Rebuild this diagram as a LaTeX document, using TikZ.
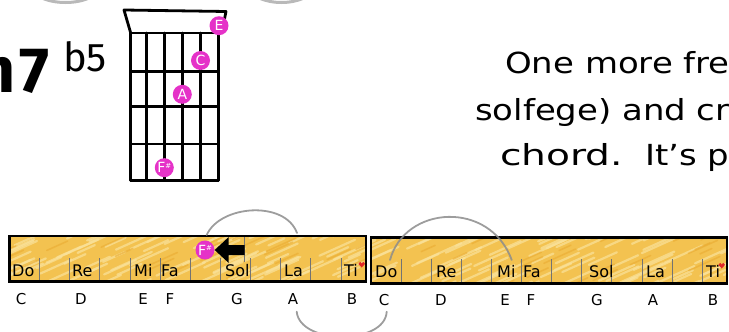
\documentclass[tikz,border=0pt]{standalone}
\usepackage{fontspec}
\setmainfont{DejaVu Sans}
\newfontfamily\chordfont{Fira Sans}
\usetikzlibrary{calc}
\definecolor{dotmag}{RGB}{229,50,200}
\definecolor{barfill}{RGB}{243,194,80}
\definecolor{barlight}{RGB}{250,226,155}
\definecolor{bardark}{RGB}{234,172,50}
\definecolor{arcgray}{RGB}{140,140,140}
\definecolor{topgray}{RGB}{185,185,185}
\definecolor{heartred}{RGB}{225,40,40}
\begin{document}
\begin{tikzpicture}[x=1pt,y=-1pt,
  fretline/.style={line width=2.8pt, black, line cap=round},
  dot/.style={circle, fill=dotmag, inner sep=0pt, minimum size=19pt, text=white, font=\fontsize{14}{14}\selectfont},
  barbox/.style={line width=2.4pt, black},
  tickline/.style={line width=0.7pt, black!55},
  solf/.style={anchor=base west, font=\fontsize{16}{16}\selectfont, inner sep=0pt},
  letter/.style={anchor=base, font=\fontsize{15}{15}\selectfont, inner sep=0pt},
  sketcharc/.style={arcgray, line width=1.8pt, opacity=0.85, line cap=round},
  toparc/.style={topgray, line width=3pt, line cap=round},
  body/.style={anchor=base west, inner sep=0pt, font=\fontsize{29}{29}\selectfont}]
\useasboundingbox (0,0) rectangle (729,332);
\clip (0,0) rectangle (729,332);

% top partial arcs
\coordinate (t1a) at (42,-2); \coordinate (t1b) at (89,-2);
\coordinate (t2a) at (259,-2); \coordinate (t2b) at (304,-2);
\draw[toparc] (t1a) .. controls (55,4) and (76,4) .. (t1b);
\draw[toparc] (t2a) .. controls (272,4) and (291,4) .. (t2b);

% chord name
\node[anchor=base east, inner sep=0pt, font=\chordfont\bfseries\fontsize{64}{64}\selectfont] (cm) at (16,92) {m};
\node[anchor=base west, inner sep=0pt, font=\chordfont\bfseries\fontsize{64}{64}\selectfont] (c7) at (19,92) {7};
\node[anchor=base west, inner sep=0pt, font=\chordfont\fontsize{40}{40}\selectfont] (cb5) at (63,71) {b5};

% chord diagram
\foreach \x in {130.7,146.7,164.3,182.3,200.7,218.3}
  \draw[fretline] (\x,33) -- (\x,180.5);
\foreach \y in {33,71.5,106.7,144,180.5}
  \draw[fretline] (130.7,\y) -- (218.3,\y);
\draw[fretline, line join=round] (130.7,33) -- (124,10) -- (226,11.5) -- (224.5,19);
\node[dot] (dE) at (219,25.7) {E};
\node[dot] (dC) at (200.5,60.5) {C};
\node[dot] (dA) at (182.3,94.3) {A};
\node[dot] (dF) at (164.3,167.7) {F\raisebox{0.6ex}{\fontsize{7}{7}\selectfont\#}};

% body text
\node[body] (l1) at (505,73) {\scalebox{1.17}[1]{One more frequently}};
\node[body] (l2) at (475,120) {\scalebox{1.17}[1]{solfege) and create}};
\node[body] (l3) at (500,165) {\scalebox{1.35}[1]{chord.}\hspace{22pt}\scalebox{1.17}[1]{It's pretty}};

% bars
\pgfmathsetseed{11}
\foreach \bx/\by/\bw/\bh in {9.3/236/356.7/45.5, 371/237.3/355.7/46}{
  \fill[barfill] (\bx,\by) rectangle ++(\bw,\bh);
  \begin{scope}
    \clip (\bx,\by) rectangle ++(\bw,\bh);
    \foreach \i in {1,...,90}{
      \pgfmathsetmacro\sx{\bx-20+rnd*(\bw+20)}
      \pgfmathsetmacro\sy{\by+rnd*(\bh+10)}
      \pgfmathsetmacro\sl{15+rnd*30}
      \draw[barlight, line width=2.2pt, opacity=0.7, line cap=round] (\sx,\sy) -- ++(\sl,-0.45*\sl);
    }
    \foreach \i in {1,...,25}{
      \pgfmathsetmacro\sx{\bx-20+rnd*(\bw+20)}
      \pgfmathsetmacro\sy{\by+rnd*(\bh+10)}
      \pgfmathsetmacro\sl{10+rnd*25}
      \draw[bardark, line width=1.6pt, opacity=0.6, line cap=round] (\sx,\sy) -- ++(\sl,-0.45*\sl);
    }
  \end{scope}
}
% ticks bar 1
\foreach \k in {1,...,11}
  \draw[tickline] (9.3+30.15*\k,258) -- (9.3+30.15*\k,281.5);
\draw[tickline] (244,237) -- (244,262);
% ticks bar 2
\foreach \k in {1,...,11}
  \draw[tickline] (371+30.1*\k,259) -- (371+30.1*\k,283.3);
\draw[barbox] (9.3,236) rectangle (366,281.5);
\draw[barbox] (371,237.3) rectangle (726.7,283.3);

% solfege labels bar 1
\node[solf] (s1do) at (12,276) {Do};
\node[solf] (s1re) at (72,276) {Re};
\node[solf] (s1mi) at (134,276) {Mi};
\node[solf] (s1fa) at (161,276) {Fa};
\node[solf] (s1sol) at (225,276) {Sol};
\node[solf] (s1la) at (284,276) {La};
\node[solf] (s1ti) at (344,276) {Ti};
% solfege labels bar 2
\node[solf] (s2do) at (375,277) {Do};
\node[solf] (s2re) at (436,277) {Re};
\node[solf] (s2mi) at (497,277) {Mi};
\node[solf] (s2fa) at (523,277) {Fa};
\node[solf] (s2sol) at (589,277) {Sol};
\node[solf] (s2la) at (646,277) {La};
\node[solf] (s2ti) at (706,277) {Ti};

% hearts
\foreach \hx/\hy in {361.7/264.5, 721.7/265.5}{
  \fill[heartred] (\hx-1.5,\hy-1) circle (1.7);
  \fill[heartred] (\hx+1.5,\hy-1) circle (1.7);
  \fill[heartred] (\hx-3.1,\hy-0.4) -- (\hx+3.1,\hy-0.4) -- (\hx,\hy+3) -- cycle;
}

% letters
\foreach \lx/\lt in {21/C,81/D,143/E,170/F,237/G,293/A,352/B}
  \node[letter] at (\lx,304) {\lt};
\foreach \lx/\lt in {384/C,441/D,505/E,531/F,597/G,653/A,713/B}
  \node[letter] at (\lx,305) {\lt};

% F# in bar and arrow pointing at it
\node[dot] (fsbar) at (205,250) {F\raisebox{0.6ex}{\fontsize{7}{7}\selectfont\#}};
\fill (fsbar.east) -- ++(14,-13) -- ++(0,8) -- ++(16,0) -- ++(0,10) -- ++(-16,0) -- ++(0,8) -- cycle;

% sketch arcs
\coordinate (a1s) at (206.7,235); \coordinate (a1e) at (297,233);
\draw[sketcharc] (a1s) .. controls (220,205) and (285,200) .. (a1e);
\coordinate (a2s) at (390,260); \coordinate (a2e) at (511.7,260);
\draw[sketcharc] (a2s) .. controls (405,205) and (490,200) .. (a2e);
\coordinate (a3s) at (296.7,311.7); \coordinate (a3e) at (386.7,311.7);
\draw[sketcharc] (a3s) .. controls (300,345) and (385,345) .. (a3e);
\end{tikzpicture}
\end{document}
